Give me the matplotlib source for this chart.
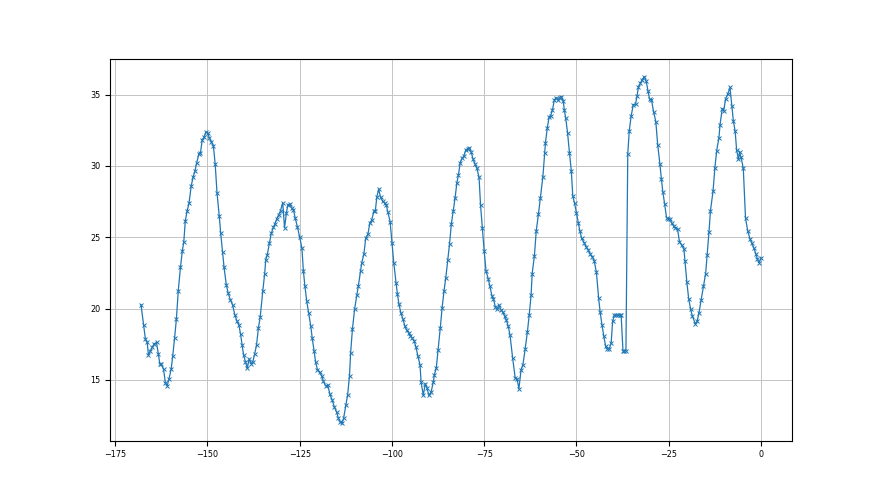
import numpy as np
import matplotlib
matplotlib.use("Agg")
import matplotlib.pyplot as plt

# hours before now and temperature readings
hours = [
    -168.0, -167.3, -166.8, -166.3, -166.0, -165.5, -165.0, -164.4, -163.8, -163.3,
    -162.9, -162.5, -161.9, -161.4, -160.9, -160.4, -159.8, -159.4, -158.9, -158.4,
    -157.9, -157.3, -156.8, -156.4, -156.0, -155.5, -155.0, -154.4, -153.9, -153.4,
    -152.9, -152.3, -151.9, -151.4, -150.9, -150.4, -149.9, -149.5, -148.9, -148.4,
    -147.9, -147.4, -146.8, -146.4, -145.9, -145.5, -144.9, -144.4, -143.8,
    -143.2, -142.6, -142.0, -141.5, -141.0, -140.6, -140.2, -139.7, -139.2, -138.7,
    -138.2, -137.7, -137.2, -136.7, -136.2, -135.7, -135.0, -134.5, -134.2, -133.8,
    -133.2, -132.7, -132.1, -131.7, -131.2, -130.7, -130.2, -129.6, -129.1, -128.6,
    -128.2, -127.6, -127.2, -126.7, -126.2, -125.6, -125.0, -124.4, -124.0, -123.6,
    -123.1, -122.6, -122.0, -121.6, -121.1, -120.7, -120.2, -119.6, -119.0, -118.6,
    -118.0, -117.4, -116.8, -116.2, -115.6, -115.0, -114.5, -114.0, -113.5, -113.1,
    -112.5, -112.0, -111.5, -111.2, -110.7, -110.1, -109.5, -109.1, -108.5, -108.2,
    -107.6, -107.1, -106.5, -106.0, -105.5, -104.9, -104.5, -104.1, -103.6, -103.1,
    -102.5, -102.0, -101.5, -101.1, -100.5, -100.0, -99.5, -98.9, -98.5, -98.1,
    -97.6, -97.0, -96.5, -96.0, -95.5, -95.0, -94.5, -94.0, -93.5, -93.0,
    -92.4, -92.1, -91.5, -91.0, -90.5, -90.0, -89.4, -88.8, -88.5, -88.0,
    -87.5, -86.9, -86.4, -85.9, -85.4, -84.9, -84.4, -83.9, -83.4, -82.9,
    -82.4, -82.0, -81.5, -81.0, -80.5, -80.0, -79.4, -79.0, -78.5, -78.0,
    -77.4, -77.0, -76.4, -76.0, -75.5, -75.0, -74.5, -73.9, -73.5, -72.9,
    -72.5, -72.0, -71.5, -71.0, -70.5, -70.0, -69.5, -69.0, -68.5, -68.0,
    -67.3, -66.6, -66.1, -65.6, -65.0, -64.5, -63.9, -63.3, -62.8, -62.3,
    -62.0, -61.4, -60.9, -60.3, -59.8, -59.1, -58.6, -58.4, -57.9, -57.4,
    -57.0, -56.5, -56.0, -55.5, -55.1, -54.6, -54.1, -53.6, -53.3, -52.9,
    -52.4, -51.9, -51.4, -51.0, -50.5, -50.0, -49.5, -49.1, -48.6, -47.9,
    -47.4, -46.8, -46.3, -45.7, -45.2, -44.6, -44.0, -43.6, -43.1, -42.6,
    -42.1, -41.6, -41.1, -40.6, -40.2, -39.7, -39.3, -38.8, -38.3, -37.9,
    -37.4, -37.0, -36.6, -36.1, -35.7, -35.2, -34.6, -34.0, -33.6, -33.2,
    -32.7, -32.2, -31.6, -31.1, -30.6, -30.2, -29.7, -29.1, -28.5, -28.0,
    -27.4, -27.0, -26.6, -26.1, -25.6, -25.2, -24.6, -24.2, -23.7, -23.2,
    -22.6, -22.1, -21.5, -20.9, -20.6, -20.1, -19.6, -19.1, -18.6, -17.8,
    -17.3, -16.8, -16.2, -15.6, -15.0, -14.6, -14.1, -13.7, -13.0, -12.5,
    -12.0, -11.4, -11.1, -10.5, -10.1, -9.6, -9.0, -8.4, -7.9, -7.5,
    -7.0, -6.6, -6.1, -5.8, -5.4, -4.8, -4.2, -3.6, -3.0, -2.5,
    -2.0, -1.4, -1.0, -0.5, 0.0,
]

temp = [
    20.28, 18.87, 17.86, 17.63, 16.74, 17.00, 17.28, 17.54, 17.63, 16.83,
    16.13, 16.10, 15.75, 14.81, 14.60, 15.09, 15.80, 16.69, 17.93, 19.30,
    21.27, 22.91, 24.04, 24.69, 26.13, 26.85, 27.37, 28.59, 29.20, 29.62,
    30.23, 30.85, 30.89, 31.83, 32.02, 32.37, 32.30, 31.97, 31.69, 31.43,
    30.14, 28.10, 26.50, 25.28, 23.99, 22.91, 21.69, 21.10, 20.63,
    20.28, 19.58, 19.13, 18.87, 18.19, 17.44, 16.76, 16.27, 15.82, 16.48,
    16.15, 16.27, 16.83, 17.44, 18.62, 19.41, 21.24, 22.42, 23.40, 23.76,
    24.60, 25.28, 25.70, 25.95, 26.30, 26.57, 26.85, 27.42, 25.66, 26.69,
    27.28, 27.32, 27.07, 26.92, 26.34, 25.70, 25.00, 24.25, 22.65, 21.60,
    20.54, 19.72, 18.78, 17.93, 17.04, 16.27, 15.73, 15.54, 15.26, 14.91,
    14.60, 14.62, 14.00, 13.60, 13.10, 12.75, 12.32, 12.04, 11.97, 12.32,
    13.22, 13.97, 15.31, 16.90, 18.59, 20.00, 20.94, 21.60, 22.65, 23.19,
    23.83, 24.95, 25.23, 25.99, 26.20, 26.81, 26.85, 27.82, 28.36, 27.82,
    27.51, 27.42, 27.23, 26.76, 26.10, 24.60, 23.19, 21.83, 21.00, 20.31,
    19.72, 19.25, 18.78, 18.47, 18.31, 18.10, 17.95, 17.75, 17.32, 16.71,
    16.06, 14.84, 13.92, 14.74, 14.44, 13.92, 14.15, 14.84, 15.38, 15.82,
    17.09, 18.66, 20.07, 21.24, 22.18, 23.38, 24.53, 25.94, 26.86, 27.75,
    28.83, 29.34, 30.23, 30.52, 30.69, 31.12, 31.20, 31.27, 30.95, 30.45,
    30.10, 29.85, 29.20, 27.28, 25.65, 24.01, 22.62, 22.09, 21.60, 20.89,
    20.68, 20.14, 19.95, 20.25, 19.93, 19.77, 19.50, 19.19, 18.78, 18.12,
    16.55, 15.14, 15.07, 14.39, 15.73, 16.08, 17.18, 18.36, 19.58, 20.94,
    22.46, 23.71, 25.45, 26.64, 27.75, 29.25, 30.94, 31.64, 32.68, 33.45,
    33.52, 33.92, 34.62, 34.79, 34.62, 34.79, 34.86, 34.58, 33.92, 33.33,
    32.28, 30.92, 29.65, 27.89, 27.37, 26.69, 26.01, 25.47, 24.93, 24.62,
    24.34, 24.11, 23.83, 23.64, 23.36, 22.54, 20.75, 19.78, 18.88, 18.08,
    17.35, 17.18, 17.18, 17.60, 19.12, 19.55, 19.55, 19.55, 19.55, 19.55,
    17.05, 17.05, 17.05, 30.85, 32.44, 33.48, 34.30, 34.32, 34.88, 35.55,
    35.78, 36.05, 36.25, 35.92, 35.23, 34.67, 34.65, 33.79, 33.10, 31.50,
    30.14, 29.11, 28.17, 27.32, 26.38, 26.31, 26.28, 25.99, 25.80, 25.65,
    25.56, 24.69, 24.46, 24.20, 23.33, 21.88, 20.70, 20.00, 19.48, 18.94,
    19.11, 19.72, 20.63, 21.57, 22.46, 23.76, 25.35, 26.85, 28.22, 29.86,
    31.08, 31.97, 32.89, 34.01, 33.85, 34.70, 35.05, 35.50, 34.18, 33.18,
    32.42, 31.10, 30.45, 30.95, 30.60, 29.84, 26.36, 25.45, 24.90, 24.60,
    24.28, 23.85, 23.50, 23.22, 23.55,
]

plt.rcParams['font.size'] = 6.5
plt.rcParams['font.stretch'] = 'condensed'

fig = plt.figure(figsize=(8.8, 4.95), dpi=100)
plt.plot(hours, temp, marker='x', markersize=3.5, linewidth=0.9, markeredgewidth=0.7)
plt.grid(True, color='#c4c4c4', linewidth=0.7)

plt.savefig("out.png", dpi=100)
